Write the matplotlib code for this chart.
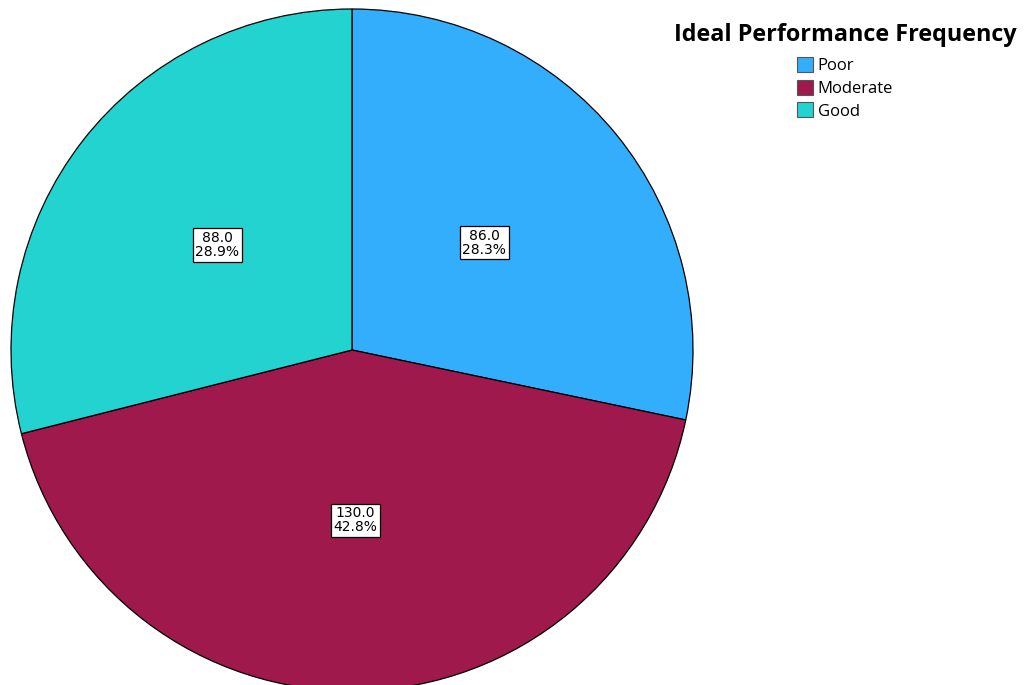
import matplotlib
matplotlib.use("Agg")
import matplotlib.pyplot as plt

categories = ["Poor", "Moderate", "Good"]
counts = [86.0, 130.0, 88.0]
colors = ["#33AEFC", "#A0194C", "#23D3D0"]
legend_title = "Ideal Performance Frequency"

W, H = 1026, 685
fig = plt.figure(figsize=(W / 100, H / 100), dpi=100)
ax = fig.add_axes([0, 0, 1, 1])

total = sum(counts)

def fmt(p):
    v = p * total / 100
    return f"{v:.1f}\n{p:.1f}%"

wedges, texts, autotexts = ax.pie(
    counts, colors=colors, startangle=90, counterclock=False,
    center=(352, 335), radius=341, autopct=fmt, pctdistance=0.5,
    wedgeprops=dict(edgecolor="black", linewidth=0.9),
    textprops=dict(fontsize=10, family="DejaVu Sans", linespacing=1.0),
    frame=True)
ax.set_xlim(0, W)
ax.set_ylim(0, H)
ax.set_aspect("equal")
ax.axis("off")
for t in autotexts:
    t.set_ha("center")
    t.set_va("center")
    t.set_bbox(dict(facecolor="white", edgecolor="black", linewidth=0.9,
                    boxstyle="square,pad=0.2"))

leg = ax.legend(wedges, categories, title=legend_title, frameon=False,
                loc="upper right", bbox_to_anchor=(1.002, 0.983),
                prop=dict(family="Open Sans", size=12),
                title_fontproperties=dict(family="Open Sans", weight="bold", size=16.8),
                handlelength=0.95, handleheight=1.0, handletextpad=0.3,
                labelspacing=0.33, borderpad=0.2)
leg._legend_box.sep = 7
for h in leg.legend_handles:
    h.set_edgecolor("#555555")
    h.set_linewidth(0.8)

fig.savefig("out.png", dpi=100)
